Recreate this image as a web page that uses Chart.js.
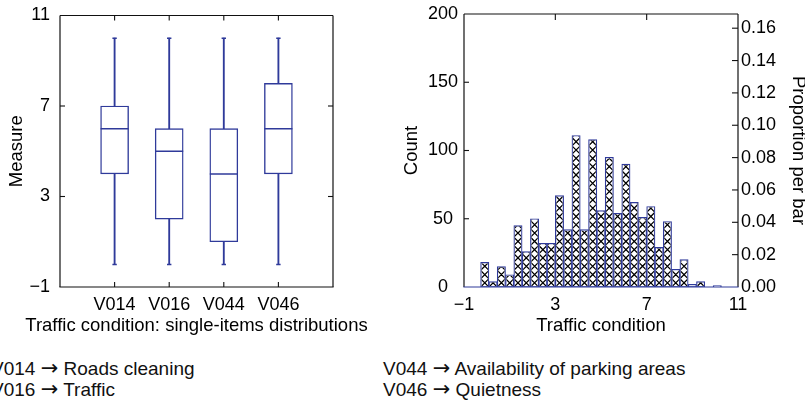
<!DOCTYPE html>
<html><head><meta charset="utf-8">
<script src="https://cdn.jsdelivr.net/npm/chart.js@4.4.1/dist/chart.umd.min.js"></script>
<style>
html,body{margin:0;padding:0;background:#fff;overflow:hidden;width:805px;height:402px;position:relative;}
#c1{position:absolute;left:0;top:0;}
#c2{position:absolute;left:400px;top:0;}
.leg{position:absolute;font-family:"Liberation Sans",Arial,sans-serif;font-size:19px;line-height:21px;color:#111;white-space:nowrap;}
.arr{font-family:"DejaVu Sans",sans-serif;font-size:21px;line-height:19px;}
.xt{position:absolute;left:0;width:393px;text-align:center;font-family:"Liberation Sans",Arial,sans-serif;font-size:18.5px;line-height:21px;color:#000;white-space:nowrap;}
</style></head><body>
<canvas id="c1" width="400" height="345"></canvas>
<canvas id="c2" width="410" height="345"></canvas>
<div class="xt" id="xt1" style="top:314px"></div>
<div class="leg" style="left:-9px;top:358px">V014 <span class="arr">→</span> Roads cleaning<br>V016 <span class="arr">→</span> Traffic</div>
<div class="leg" style="left:383px;top:358px">V044 <span class="arr">→</span> Availability of parking areas<br>V046 <span class="arr">→</span> Quietness</div>
<script>
// ---- Box plot data ----
const categories = ['V014', 'V016', 'V044', 'V046'];
const whiskerLow = [0, 0, 0, 0];
const q1 = [4, 2, 1, 4];
const median = [6, 5, 4, 6];
const q3 = [7, 6, 6, 8];
const whiskerHigh = [10, 10, 10, 10];
const measureTicks = [-1, 3, 7, 11];
const boxXTitle = 'Traffic condition: single-items distributions';

// ---- Histogram data ----
const histMin = -1, histMax = 11;
const counts = [0, 0, 18, 4, 15, 9, 45, 26, 50, 32, 32, 67, 42, 111, 42, 108, 56, 95, 54, 90, 62, 51, 59, 29, 48, 13, 20, 2, 4, 0, 1, 0, 0];
const countTicks = [0, 50, 100, 150, 200];
const proportionTicks = [0, 0.02, 0.04, 0.06, 0.08, 0.10, 0.12, 0.14, 0.16];
const conditionTicks = [-1, 3, 7, 11];

const BLUE = '#2f3a9a';
const INK = '#111';
const FONT = '"Liberation Sans", Arial, sans-serif';
const minus = v => String(v).replace('-', '\u2212');
document.getElementById('xt1').textContent = boxXTitle;

function setTicks(values) {
  return s => { s.ticks = values.map(v => ({ value: v })); };
}
function fitV(w) { return s => { s.width = w; s.paddingTop = 0; s.paddingBottom = 0; }; }
function fitH(h) { return s => { s.height = h; s.paddingLeft = 0; s.paddingRight = 0; }; }

function framePlugin(spec) {
  return {
    id: 'frame',
    afterDraw(chart) {
      const { ctx, chartArea: a } = chart;
      ctx.save();
      ctx.lineWidth = 1.2;
      const edge = (x1, y1, x2, y2, col) => {
        ctx.strokeStyle = col; ctx.beginPath(); ctx.moveTo(x1, y1); ctx.lineTo(x2, y2); ctx.stroke();
      };
      edge(a.left, a.top, a.right, a.top, INK);
      edge(a.left, a.top, a.left, a.bottom, INK);
      edge(a.right, a.top, a.right, a.bottom, INK);
      edge(a.left - 0.6, a.bottom, a.right + 0.6, a.bottom, spec.bottomColor || INK);
      ctx.strokeStyle = INK;
      ctx.lineWidth = 1.1;
      spec.ticks.forEach(t => {
        const sc = chart.scales[t.scale];
        t.values.forEach(v => {
          const p = sc.getPixelForValue(v);
          ctx.beginPath();
          if (t.side === 'left') { ctx.moveTo(a.left, p); ctx.lineTo(a.left + t.len, p); }
          if (t.side === 'right') { ctx.moveTo(a.right, p); ctx.lineTo(a.right - t.len, p); }
          if (t.side === 'top') { ctx.moveTo(p, a.top); ctx.lineTo(p, a.top + t.len); }
          if (t.side === 'bottom') { ctx.moveTo(p, a.bottom); ctx.lineTo(p, a.bottom - t.len); }
          ctx.stroke();
        });
      });
      ctx.restore();
    }
  };
}

const noGrid = { display: false, drawTicks: false };

// ---------------- Left chart: box plot ----------------
const pos = categories.map((c, i) => i + 1);
new Chart(document.getElementById('c1'), {
  type: 'bar',
  data: {
    datasets: [
      { type: 'scatter', data: pos.map((x, i) => ({ x, y: median[i] })), pointStyle: 'line', pointRadius: 14, pointHoverRadius: 14, borderColor: BLUE, borderWidth: 1.5, order: 0 },
      { type: 'scatter', data: pos.map((x, i) => ({ x, y: whiskerLow[i] })).concat(pos.map((x, i) => ({ x, y: whiskerHigh[i] }))), pointStyle: 'line', pointRadius: 2.2, pointHoverRadius: 2.2, borderColor: BLUE, borderWidth: 1.5, order: 0 },
      { data: pos.map((x, i) => ({ x, y: [q1[i], q3[i]] })), backgroundColor: '#fff', borderColor: BLUE, borderWidth: 1.4, borderSkipped: false, barThickness: 28, grouped: false, order: 1 },
      { data: pos.map((x, i) => ({ x, y: [whiskerLow[i], q1[i]] })), backgroundColor: BLUE, borderWidth: 0, barThickness: 1.2, grouped: false, order: 2 },
      { data: pos.map((x, i) => ({ x, y: [q3[i], whiskerHigh[i]] })), backgroundColor: BLUE, borderWidth: 0, barThickness: 1.2, grouped: false, order: 2 }
    ]
  },
  options: {
    responsive: false, animation: false, devicePixelRatio: 1,
    layout: { padding: { top: 14, right: 67, left: 0, bottom: 0 } },
    plugins: { legend: { display: false }, tooltip: { enabled: false } },
    scales: {
      x: {
        type: 'linear', min: 0, max: 5, offset: false, position: 'bottom',
        grid: noGrid, border: { display: false },
        afterBuildTicks: setTicks(pos),
        afterFit: fitH(58),
        ticks: { color: '#000', font: { family: FONT, size: 18 }, padding: 7, maxRotation: 0, autoSkip: false, callback: v => categories[v - 1] || '' }
      },
      y: {
        type: 'linear', min: -1, max: 11, position: 'left',
        grid: noGrid, border: { display: false },
        afterBuildTicks: setTicks(measureTicks),
        afterFit: fitV(60),
        ticks: { color: '#000', font: { family: FONT, size: 18 }, padding: 10, callback: v => minus(v) },
        title: { display: true, text: 'Measure', color: '#000', font: { family: FONT, size: 18.5 }, padding: { top: 6, bottom: 0 } }
      }
    }
  },
  plugins: [framePlugin({
    ticks: [
      { scale: 'y', side: 'left', values: [3, 7], len: 5 },
      { scale: 'y', side: 'right', values: [3, 7], len: 5 },
      { scale: 'x', side: 'top', values: pos, len: 5 },
      { scale: 'x', side: 'bottom', values: pos, len: 5 }
    ]
  })]
});

// ---------------- Right chart: histogram ----------------
const binW = (histMax - histMin) / counts.length;
const total = counts.reduce((s, v) => s + v, 0);
const countMax = 200;

const hatchPlugin = {
  id: 'hatch',
  afterDatasetsDraw(chart) {
    const meta = chart.getDatasetMeta(0);
    const ctx = chart.ctx;
    ctx.save();
    ctx.strokeStyle = '#000';
    ctx.lineWidth = 1.25;
    meta.data.forEach(bar => {
      const { x, y, base, width } = bar.getProps(['x', 'y', 'base', 'width'], true);
      const h = base - y;
      if (h < 3) return;
      const l = x - width / 2, r = x + width / 2;
      ctx.save();
      ctx.beginPath();
      ctx.rect(l + 1, y + 1, width - 2, h - 2);
      ctx.clip();
      ctx.beginPath();
      const c = width;
      for (let yy = base; yy > y - c; yy -= c) {
        ctx.moveTo(l, yy); ctx.lineTo(r, yy - c);
        ctx.moveTo(r, yy); ctx.lineTo(l, yy - c);
      }
      ctx.stroke();
      ctx.restore();
    });
    ctx.restore();
  }
};

new Chart(document.getElementById('c2'), {
  type: 'bar',
  data: {
    datasets: [{
      data: counts.map((v, i) => ({ x: histMin + binW * (i + 0.5), y: v })),
      backgroundColor: '#fff', borderColor: BLUE, borderWidth: 1.2, borderSkipped: false,
      barPercentage: 1, categoryPercentage: 1, yAxisID: 'y'
    }]
  },
  options: {
    responsive: false, animation: false, devicePixelRatio: 1,
    layout: { padding: { top: 14, right: 0, left: 0, bottom: 0 } },
    plugins: { legend: { display: false }, tooltip: { enabled: false } },
    scales: {
      x: {
        type: 'linear', min: histMin, max: histMax, offset: false, position: 'bottom',
        grid: noGrid, border: { display: false },
        afterBuildTicks: setTicks(conditionTicks),
        afterFit: fitH(58),
        ticks: { color: '#000', font: { family: FONT, size: 18 }, padding: 7, maxRotation: 0, autoSkip: false, callback: v => minus(v) },
        title: { display: true, text: 'Traffic condition', color: '#000', font: { family: FONT, size: 18.5 }, padding: { top: 0, bottom: 8 } }
      },
      y: {
        type: 'linear', min: 0, max: countMax, position: 'left',
        grid: noGrid, border: { display: false },
        afterBuildTicks: setTicks(countTicks),
        afterFit: fitV(64),
        ticks: { color: '#000', font: { family: FONT, size: 18 }, padding: 6, crossAlign: 'center' },
        title: { display: true, text: 'Count', color: '#000', font: { family: FONT, size: 18.5 }, padding: { top: 1, bottom: 0 } }
      },
      y2: {
        type: 'linear', min: 0, max: countMax / total, position: 'right',
        grid: noGrid, border: { display: false },
        afterBuildTicks: setTicks(proportionTicks),
        afterFit: fitV(72),
        ticks: { color: '#000', font: { family: FONT, size: 18 }, padding: 3, callback: v => v.toFixed(2) },
        title: { display: true, text: 'Proportion per bar', color: '#000', font: { family: FONT, size: 18.5 }, padding: { top: 1, bottom: 0 } }
      }
    }
  },
  plugins: [hatchPlugin, framePlugin({
    bottomColor: BLUE,
    ticks: [
      { scale: 'y', side: 'left', values: [50, 100, 150], len: 5 },
      { scale: 'y2', side: 'right', values: proportionTicks.slice(1), len: 6 },
      { scale: 'x', side: 'top', values: [3, 7], len: 6 }
    ]
  })]
});
</script>
</body></html>
